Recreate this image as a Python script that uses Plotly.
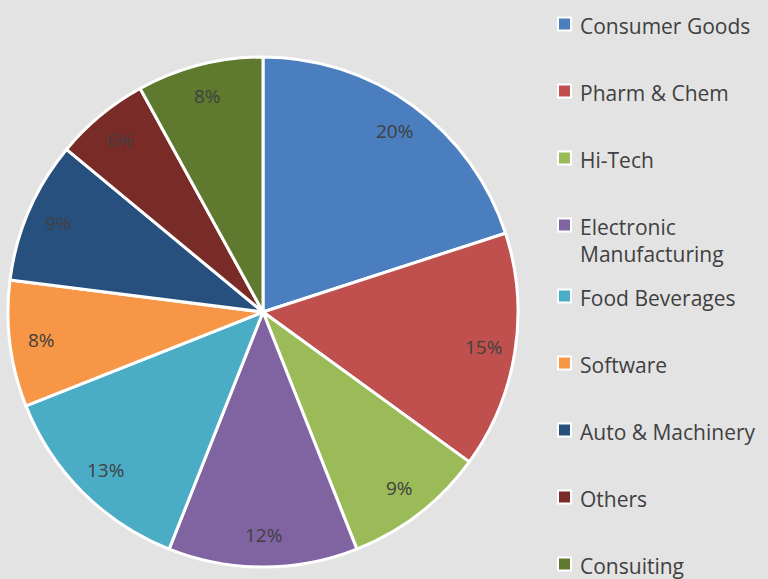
import math
import plotly.graph_objects as go

categories = ["Consumer Goods", "Pharm & Chem", "Hi-Tech", "Electronic Manufacturing",
              "Food Beverages", "Software", "Auto & Machinery", "Others", "Consuiting"]
shares = [20, 15, 9, 12, 13, 8, 9, 6, 8]
colors = ["#4a7ebf", "#c0504d", "#9bbb59", "#8064a2", "#4bacc6",
          "#f79646", "#28507f", "#792b28", "#5f7a2e"]
legend_text = ["Consumer Goods", "Pharm & Chem", "Hi-Tech", "Electronic<br>Manufacturing",
               "Food Beverages", "Software", "Auto & Machinery", "Others", "Consuiting"]

W, H = 768, 579
BG = "#e3e3e3"
FONT = "Open Sans"
TXT = "#404040"

# pie placement (pixels)
PX0, PX1, PY0, PY1 = 8, 518, 57, 567
CX, CY = (PX0 + PX1) / 2, (PY0 + PY1) / 2
R = (PX1 - PX0) / 2
LABEL_R = 0.875 * R

fig = go.Figure()
fig.add_trace(go.Pie(
    labels=categories,
    values=shares,
    sort=False,
    direction="clockwise",
    rotation=0,
    marker=dict(colors=colors, line=dict(color="white", width=3)),
    textinfo="none",
    domain=dict(x=[PX0 / W, PX1 / W], y=[1 - PY1 / H, 1 - PY0 / H]),
    showlegend=False,
    hoverinfo="label+percent",
))

annotations = []
shapes = []

# slice percentage labels, placed from the data along each slice's mid-angle
total = sum(shares)
cum = 0
for v in shares:
    mid = (cum + v / 2) / total * 2 * math.pi
    cum += v
    x = CX + LABEL_R * math.sin(mid)
    y = CY - LABEL_R * math.cos(mid)
    annotations.append(dict(xref="paper", yref="paper", x=x / W, y=1 - y / H,
                            xanchor="center", yanchor="middle", showarrow=False,
                            text=f"{round(v / total * 100)}%",
                            font=dict(family=FONT, size=19, color=TXT)))

# legend
for i, (txt, col) in enumerate(zip(legend_text, colors)):
    yc = 24 + 67 * i + (4 if i >= 4 else 0)
    shapes.append(dict(type="rect", xref="paper", yref="paper",
                       x0=558 / W, x1=571 / W,
                       y0=1 - (yc + 6.5) / H, y1=1 - (yc - 6.5) / H,
                       fillcolor=col, line=dict(color="white", width=2)))
    annotations.append(dict(xref="paper", yref="paper", x=578 / W,
                            y=1 - (yc - 14) / H, xanchor="left", yanchor="top",
                            align="left", showarrow=False, text=txt,
                            font=dict(family=FONT, size=21, color=TXT)))

fig.update_layout(
    width=W, height=H,
    margin=dict(l=0, r=0, t=0, b=0),
    paper_bgcolor=BG, plot_bgcolor=BG,
    shapes=shapes, annotations=annotations,
)

fig.write_html("out.html", config={"displayModeBar": False},
               post_script="document.body.style.margin='0px';")
